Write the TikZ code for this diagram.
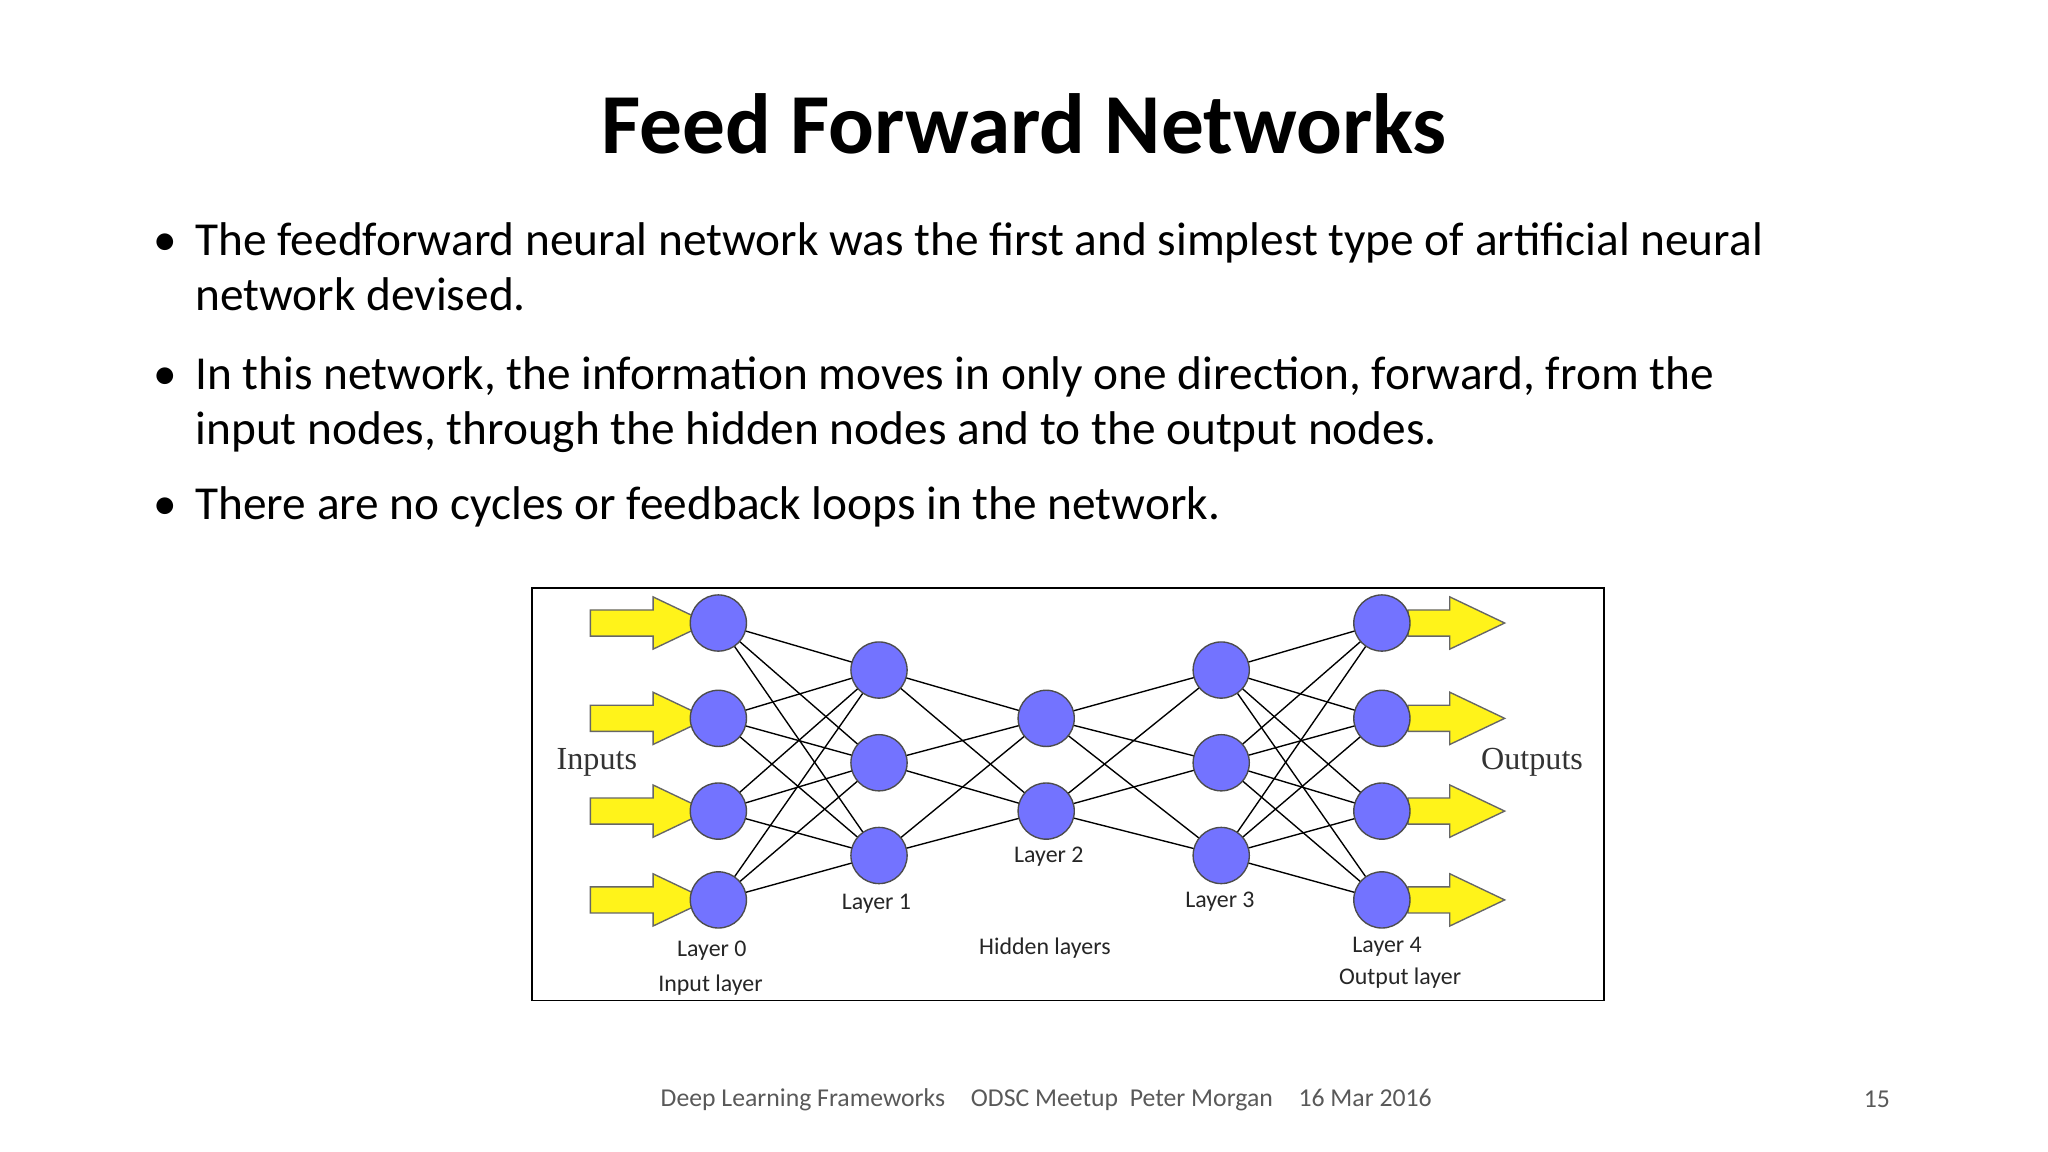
\documentclass[tikz,border=0pt]{standalone}
\usepackage{fontspec}
\setmainfont{Carlito}
\begin{document}
\begin{tikzpicture}[x=0.01cm,y=-0.01cm,
  neuron/.style={circle,draw=black!70,fill=blue!55!white,minimum size=0.43cm,inner sep=0pt,line width=0.3pt},
  yarrow/.style={fill=yellow!90!white,draw=black!60,line width=0.3pt},
  lbl/.style={font=\fontsize{5.2pt}{6pt}\selectfont,text=black!85},
  btxt/.style={anchor=north west,align=left,font=\fontsize{10.3pt}{12pt}\selectfont,inner sep=0pt}]
\useasboundingbox (0,0) rectangle (1568,882);
\fill[white] (0,0) rectangle (1568,882);
\node[font=\bfseries\fontsize{18.6pt}{22pt}\selectfont] (title) at (784,95) {Feed Forward Networks};
\node[btxt] (b1) at (149,170) {\llap{•\hspace{0.14cm}}The feedforward neural network was the first and simplest type of artificial neural\\network devised.};
\node[btxt] (b2) at (149,272) {\llap{•\hspace{0.14cm}}In this network, the information moves in only one direction, forward, from the\\input nodes, through the hidden nodes and to the output nodes.};
\node[btxt] (b3) at (149,372) {\llap{•\hspace{0.14cm}}There are no cycles or feedback loops in the network.};
\draw[black,line width=0.4pt] (407,450) rectangle (1228,766);
% arrows
\foreach \y in {477,550,621,689}{
  \draw[yarrow] (452,\y-10) -- (500,\y-10) -- (500,\y-20) -- (542,\y) -- (500,\y+20) -- (500,\y+10) -- (452,\y+10) -- cycle;
  \draw[yarrow] (1078,\y-10) -- (1110,\y-10) -- (1110,\y-20) -- (1152,\y) -- (1110,\y+20) -- (1110,\y+10) -- (1078,\y+10) -- cycle;
}
\foreach \i/\y in {1/477,2/550,3/621,4/689}{\coordinate (a\i) at (550,\y); \coordinate (e\i) at (1058,\y);}
\foreach \i/\y in {1/513,2/584,3/655}{\coordinate (b\i) at (673,\y); \coordinate (d\i) at (935,\y);}
\foreach \i/\y in {1/550,2/621}{\coordinate (c\i) at (801,\y);}
\foreach \i in {1,...,4}{\foreach \j in {1,2,3}{\draw[line width=0.3pt] (a\i) -- (b\j); \draw[line width=0.3pt] (d\j) -- (e\i);}}
\foreach \i in {1,2,3}{\foreach \j in {1,2}{\draw[line width=0.3pt] (b\i) -- (c\j); \draw[line width=0.3pt] (c\j) -- (d\i);}}
\foreach \n in {a1,a2,a3,a4,b1,b2,b3,c1,c2,d1,d2,d3,e1,e2,e3,e4}{\node[neuron] (N\n) at (\n) {};}
\node[font=\fontspec{Liberation Serif}\fontsize{7pt}{8pt}\selectfont,text=black!80] (inp) at (457,584) {Inputs};
\node[font=\fontspec{Liberation Serif}\fontsize{7pt}{8pt}\selectfont,text=black!80] (outp) at (1173,584) {Outputs};
\node[lbl] (l0) at (545,728) {Layer 0};
\node[lbl] (l0b) at (544,754) {Input layer};
\node[lbl] (l1) at (671,692) {Layer 1};
\node[lbl] (l2) at (803,656) {Layer 2};
\node[lbl] (hl) at (800,726) {Hidden layers};
\node[lbl] (l3) at (934,690) {Layer 3};
\node[lbl] (l4) at (1062,725) {Layer 4};
\node[lbl] (l4b) at (1072,749) {Output layer};
\node[font=\fontsize{5.6pt}{6pt}\selectfont,text=black!65] (foot) at (801,842) {Deep Learning Frameworks\quad ODSC Meetup\ \ Peter Morgan\quad 16 Mar 2016};
\node[font=\fontsize{5.6pt}{6pt}\selectfont,text=black!65] (pg) at (1437,842) {15};
\end{tikzpicture}
\end{document}
